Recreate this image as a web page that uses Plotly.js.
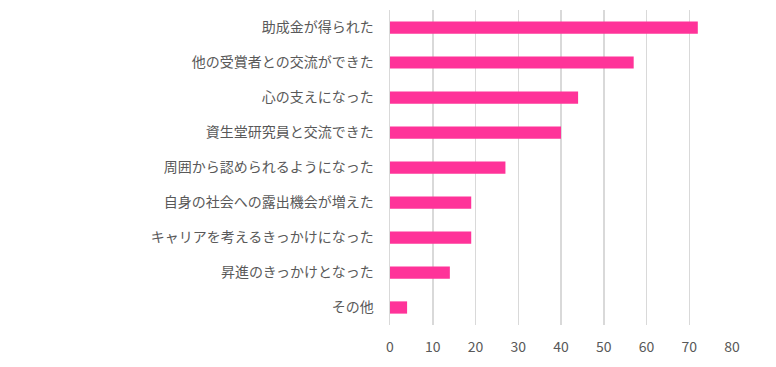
<!DOCTYPE html>
<html>
<head>
<meta charset="utf-8">
<script src="https://cdn.plot.ly/plotly-3.0.1.min.js"></script>
<style>html,body{margin:0;padding:0;background:#fff;}#chart{width:776px;height:367px;}</style>
</head>
<body>
<div id="chart"></div>
<script>
var categories = [
  "助成金が得られた",
  "他の受賞者との交流ができた",
  "心の支えになった",
  "資生堂研究員と交流できた",
  "周囲から認められるようになった",
  "自身の社会への露出機会が増えた",
  "キャリアを考えるきっかけになった",
  "昇進のきっかけとなった",
  "その他"
];
var values = [72, 57, 44, 40, 27, 19, 19, 14, 4];
var xTicks = [0, 10, 20, 30, 40, 50, 60, 70, 80];

var trace = {
  type: "bar",
  orientation: "h",
  y: categories,
  x: values,
  width: 0.35,
  marker: {color: "#ff3399"},
  hoverinfo: "x+y"
};

var layout = {
  width: 776,
  height: 367,
  margin: {l: 390, r: 44, t: 10, b: 42, pad: 0},
  paper_bgcolor: "#ffffff",
  plot_bgcolor: "#ffffff",
  showlegend: false,
  font: {family: "Noto Sans CJK JP, sans-serif", color: "#595959", size: 14},
  xaxis: {
    range: [0, 80],
    tickvals: xTicks,
    ticktext: xTicks.map(String),
    showgrid: true,
    gridcolor: "#d9d9d9",
    gridwidth: 1.5,
    zeroline: false,
    showline: false,
    ticks: "",
    ticklabelstandoff: 12,
    tickfont: {size: 14, color: "#595959", family: "Noto Sans CJK JP, sans-serif"},
    fixedrange: true
  },
  yaxis: {
    autorange: "reversed",
    categoryorder: "array",
    categoryarray: categories,
    showgrid: false,
    zeroline: false,
    showline: true,
    linecolor: "#d9d9d9",
    linewidth: 1.5,
    ticks: "",
    ticklabelstandoff: 12,
    tickfont: {size: 14, color: "#595959", family: "Noto Sans CJK JP, sans-serif"},
    fixedrange: true
  }
};

Plotly.newPlot("chart", [trace], layout, {displayModeBar: false, staticPlot: true});
</script>
</body>
</html>
